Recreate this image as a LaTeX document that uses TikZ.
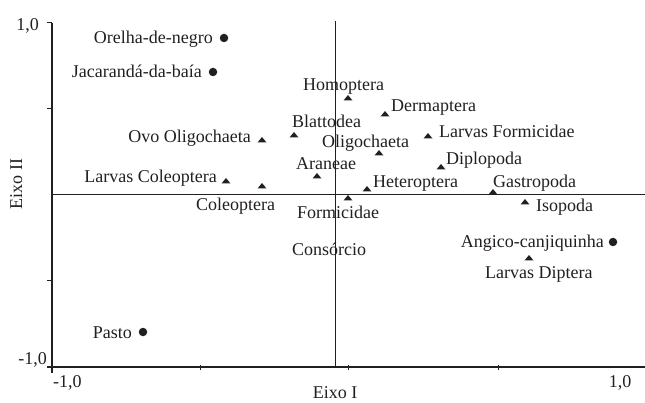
\documentclass[tikz,border=0pt]{standalone}
\usepackage{fontspec}
\setmainfont{Liberation Serif}
\definecolor{ink}{RGB}{35,31,32}
\tikzset{
  lbl/.style={inner sep=0pt, text=ink, font=\fontsize{18}{20}\selectfont},
  axis/.style={draw=ink, line width=1.2pt},
  thin/.style={draw=ink, line width=1pt},
  dotmark/.style={circle, fill=ink, inner sep=0pt, minimum size=8.5pt},
  trimark/.pic={\fill[ink] (-4.5,2.5) -- (4.5,2.5) -- (0,-3) -- cycle;}
}
\begin{document}
\begin{tikzpicture}[x=1pt,y=-1pt]
\useasboundingbox (0,0) rectangle (645,403);
% axes
\coordinate (lt) at (52,23);
\coordinate (lb) at (52,373);
\coordinate (bl) at (47,367);
\coordinate (br) at (645,367);
\coordinate (hl) at (52,194.5);
\coordinate (hr) at (645,194.5);
\coordinate (vt) at (335,21);
\coordinate (vb) at (335,367);
\draw[axis] (lt) -- (lb);
\draw[axis] (bl) -- (br);
\draw[thin] (hl) -- (hr);
\draw[thin] (vt) -- (vb);
\foreach \yy in {23,109,281} {\draw[thin] (47,\yy) -- (52,\yy);}
\foreach \xx in {200,348,498} {\draw[thin] (\xx,364.5) -- (\xx,370);}
% axis labels
\node[lbl, anchor=base east] (y1) at (39,31) {1,0};
\node[lbl, anchor=base east] (ym1) at (47,364) {-1,0};
\node[lbl, anchor=base west] (xm1) at (53,387) {-1,0};
\node[lbl, anchor=base] (x1) at (620,387) {1,0};
\node[lbl, anchor=base] (ex1) at (335,398.5) {Eixo I};
\node[lbl, anchor=base, rotate=90] (ex2) at (22,184) {Eixo II};
% sites (dots)
\node[dotmark] (d1) at (224,38) {};
\node[lbl, anchor=base east] at (213,44) {Orelha-de-negro};
\node[dotmark] (d2) at (213,72) {};
\node[lbl, anchor=base east] at (202,78) {Jacarandá-da-baía};
\node[dotmark] (d3) at (613,242) {};
\node[lbl, anchor=base east] at (604,248) {Angico-canjiquinha};
\node[dotmark] (d4) at (143,332) {};
\node[lbl, anchor=base east] at (132,338) {Pasto};
\node[lbl, anchor=base west] at (292,256) {Consórcio};
% groups (triangles)
\pic at (348,98) {trimark};
\node[lbl, anchor=base] at (343.5,91) {Homoptera};
\pic at (385,114) {trimark};
\node[lbl, anchor=base west] at (391,112) {Dermaptera};
\pic at (294,135) {trimark};
\node[lbl, anchor=base west] at (292,128) {Blattodea};
\pic at (428,136) {trimark};
\node[lbl, anchor=base west] at (439,138) {Larvas Formicidae};
\pic at (379,153) {trimark};
\node[lbl, anchor=base west] at (322,148) {Oligochaeta};
\pic at (441,167) {trimark};
\node[lbl, anchor=base west] at (446,165) {Diplopoda};
\pic at (317,176) {trimark};
\node[lbl, anchor=base west] at (296,170) {Araneae};
\pic at (367,189) {trimark};
\node[lbl, anchor=base west] at (373,188) {Heteroptera};
\pic at (493,192) {trimark};
\node[lbl, anchor=base west] at (493,188) {Gastropoda};
\pic at (348,198) {trimark};
\node[lbl, anchor=base west] at (297,219) {Formicidae};
\pic at (525,202) {trimark};
\node[lbl, anchor=base west] at (536,212) {Isopoda};
\pic at (262,140) {trimark};
\node[lbl, anchor=base east] at (251,143) {Ovo Oligochaeta};
\pic at (226,181) {trimark};
\node[lbl, anchor=base east] at (217,183) {Larvas Coleoptera};
\pic at (262,186) {trimark};
\node[lbl, anchor=base west] at (196,211) {Coleoptera};
\pic at (529,258) {trimark};
\node[lbl, anchor=base west] at (485,279) {Larvas Diptera};
\end{tikzpicture}
\end{document}
